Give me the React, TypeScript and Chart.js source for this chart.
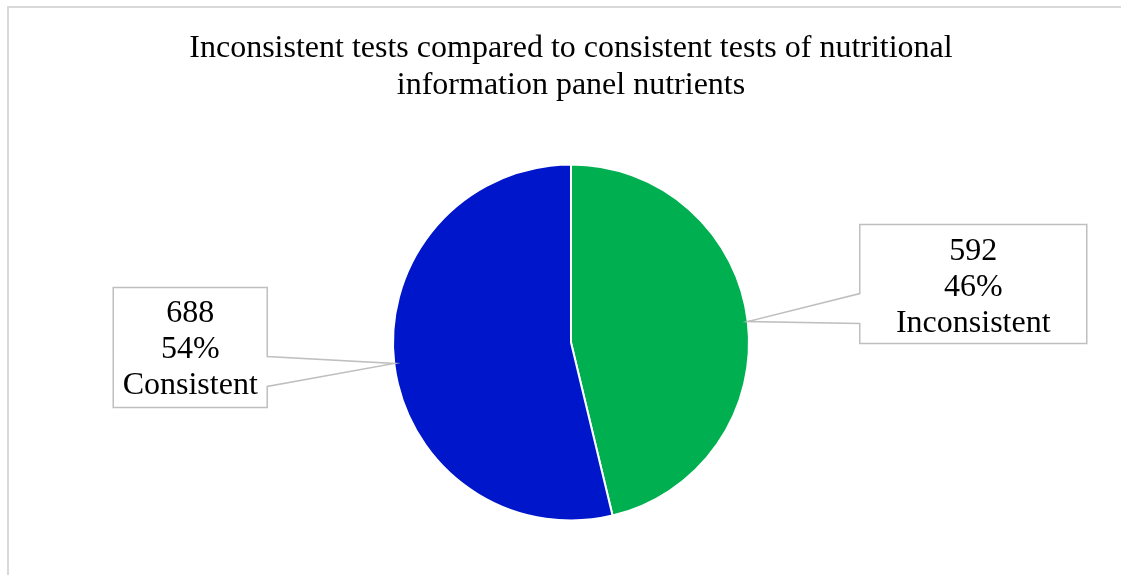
import React, { useEffect, useRef } from "react";
import { Chart, registerables } from "chart.js";

Chart.register(...registerables);

const titleLines = [
  "Inconsistent tests compared to consistent tests of nutritional",
  "information panel nutrients",
];
const categories = ["Inconsistent", "Consistent"];
const testCounts = [592, 688];
const sliceColors = ["#00B050", "#0016CA"];

// callout box layout (relative to the slice's outer-edge anchor point)
const calloutLayout = [
  { side: "right", gap: 112, topOffset: -97, width: 227, height: 119 },
  { side: "left", gap: 127, topOffset: -76, width: 154, height: 120 },
];

const FONT = '"Liberation Serif", "Times New Roman", serif';

const calloutPlugin = {
  id: "callouts",
  afterDatasetsDraw(chart: any) {
    const ctx = chart.ctx;
    const meta = chart.getDatasetMeta(0);
    const data = chart.data.datasets[0].data as number[];
    const total = data.reduce((a, b) => a + b, 0);
    meta.data.forEach((arc: any, i: number) => {
      const { x, y, startAngle, endAngle, outerRadius } = arc.getProps(
        ["x", "y", "startAngle", "endAngle", "outerRadius"],
        true
      );
      const mid = (startAngle + endAngle) / 2;
      const tx = x + Math.cos(mid) * outerRadius;
      const ty = y + Math.sin(mid) * outerRadius;
      const L = calloutLayout[i];
      const top = ty + L.topOffset;
      const bottom = top + L.height;
      const left = L.side === "right" ? tx + L.gap : tx - L.gap - L.width;
      const right = left + L.width;
      const w1 = top + 69;
      const w2 = top + 99;
      ctx.save();
      ctx.beginPath();
      if (L.side === "right") {
        ctx.moveTo(left, top);
        ctx.lineTo(right, top);
        ctx.lineTo(right, bottom);
        ctx.lineTo(left, bottom);
        ctx.lineTo(left, w2);
        ctx.lineTo(tx, ty);
        ctx.lineTo(left, w1);
        ctx.closePath();
      } else {
        ctx.moveTo(left, top);
        ctx.lineTo(right, top);
        ctx.lineTo(right, w1);
        ctx.lineTo(tx, ty);
        ctx.lineTo(right, w2);
        ctx.lineTo(right, bottom);
        ctx.lineTo(left, bottom);
        ctx.closePath();
      }
      ctx.fillStyle = "#ffffff";
      ctx.fill();
      ctx.strokeStyle = "#BFBFBF";
      ctx.lineWidth = 1.5;
      ctx.stroke();

      const pct = Math.round((data[i] / total) * 100);
      const lines = [String(data[i]), pct + "%", String(chart.data.labels[i])];
      ctx.fillStyle = "#000000";
      ctx.font = "32px " + FONT;
      ctx.textAlign = "center";
      ctx.textBaseline = "alphabetic";
      const cx = (left + right) / 2;
      lines.forEach((t, k) => {
        ctx.fillText(t, cx, top + 35 + k * 36);
      });
      ctx.restore();
    });
  },
};

export default function App() {
  const ref = useRef<HTMLCanvasElement | null>(null);
  useEffect(() => {
    if (!ref.current) return;
    const chart = new Chart(ref.current, {
      type: "pie",
      data: {
        labels: categories,
        datasets: [
          {
            data: testCounts,
            backgroundColor: sliceColors,
            borderColor: "#ffffff",
            borderWidth: 2,
          },
        ],
      },
      options: {
        animation: false,
        responsive: false,
        maintainAspectRatio: false,
        events: [],
        layout: { padding: { top: 0, bottom: 53.5, left: 0, right: 0 } },
        plugins: {
          legend: { display: false },
          tooltip: { enabled: false },
          title: {
            display: true,
            text: titleLines,
            color: "#000000",
            font: { family: FONT, size: 32, weight: "normal", lineHeight: 37 / 32 },
            padding: { top: 30, bottom: 59.5 },
          },
        },
      },
      plugins: [calloutPlugin],
    });
    return () => chart.destroy();
  }, []);
  return (
    <div
      style={{
        position: "fixed",
        left: 0,
        top: 0,
        width: 1121,
        height: 575,
        background: "#ffffff",
        overflow: "hidden",
      }}
    >
      <div
        style={{
          position: "absolute",
          left: 7,
          top: 6,
          width: 1300,
          height: 800,
          border: "2px solid #D9D9D9",
          boxSizing: "border-box",
        }}
      />
      <canvas
        ref={ref}
        width={1100}
        height={575}
        style={{ position: "absolute", left: 21, top: 0, width: 1100, height: 575 }}
      />
    </div>
  );
}
